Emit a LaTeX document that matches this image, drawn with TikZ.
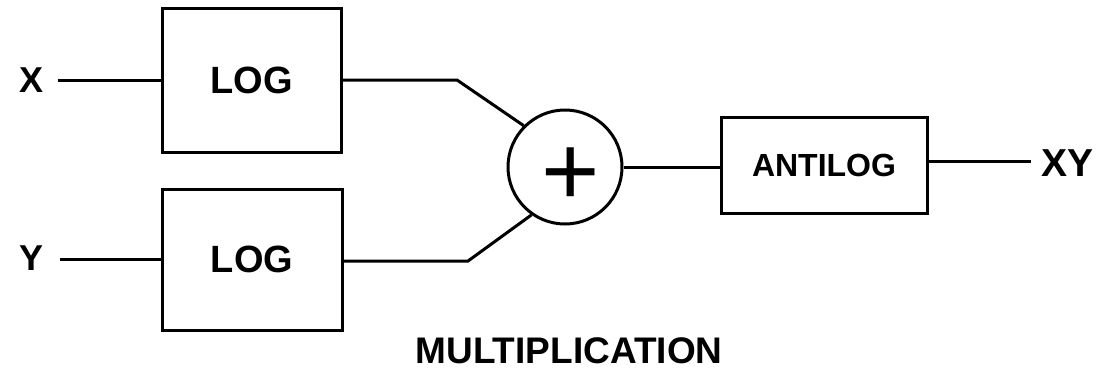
\documentclass[tikz,border=0pt]{standalone}
\usepackage{fontspec}
\setmainfont{Liberation Sans}
\begin{document}
\begin{tikzpicture}[x=1pt,y=-1pt,
  blk/.style={draw,line width=3pt,inner sep=0pt,font=\fontsize{38}{40}\selectfont\bfseries},
  lbl/.style={inner sep=0pt,font=\fontsize{36}{40}\selectfont\bfseries},
  wire/.style={line width=3pt,line join=miter}]
\useasboundingbox (0,0) rectangle (1110,370);
% blocks
\node[blk,minimum width=179pt,minimum height=144pt] (log1) at (251.5,80) {LOG};
\node[blk,minimum width=180pt,minimum height=141pt] (log2) at (252,259.5) {LOG};
\node[blk,minimum width=206pt,minimum height=96pt,font=\fontsize{32}{34}\selectfont\bfseries] (anti) at (824,165) {ANTILOG};
\node[draw,circle,line width=3pt,minimum size=114pt,inner sep=0pt] (sum) at (565,167) {};
\node[inner sep=0pt,font=\fontsize{100}{100}\selectfont] (plus) at (571,177) {+};
% labels
\node[lbl] (xin) at (32,80) {X};
\node[lbl] (yin) at (32,258) {Y};
\node[lbl,font=\fontsize{39}{40}\selectfont\bfseries] (xy) at (1067,163) {XY};
\node[lbl,font=\fontsize{37}{38}\selectfont\bfseries] (title) at (569,351) {MULTIPLICATION};
% knees
\coordinate (k1) at (457,80);
\coordinate (k2) at (468,261);
% connectors
\draw[wire] ([xshift=14pt]xin.east |- log1.west) -- (log1.west);
\draw[wire] ([xshift=16pt]yin.east |- log2.west) -- (log2.west);
\draw[wire] (log1.east) -- (k1) -- (sum.135);
\draw[wire] (log2.east |- k2) -- (k2) -- (sum.235);
\draw[wire] (sum.east) -- (sum.east -| anti.west);
\draw[wire] (anti.east |- 0,161) -- ([xshift=-10pt]xy.west |- 0,161);
\end{tikzpicture}
\end{document}
